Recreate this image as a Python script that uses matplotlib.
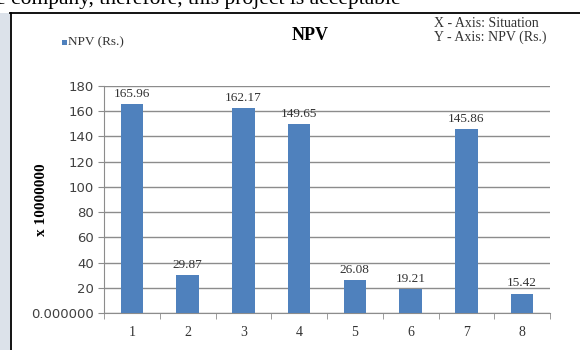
import matplotlib
matplotlib.use("Agg")
import matplotlib.pyplot as plt
from matplotlib.patches import Rectangle
from matplotlib.lines import Line2D

# NPV per situation, in units of 10,000,000 Rs.
situations = [1, 2, 3, 4, 5, 6, 7, 8]
npv = [165.96, 29.87, 162.17, 149.65, 26.08, 19.21, 145.86, 15.42]
ytick_vals = [0, 20, 40, 60, 80, 100, 120, 140, 160, 180]
ytick_labels = ["0.000000", "20", "40", "60", "80", "100", "120", "140", "160", "180"]

W, H = 580, 350
BAR = "#4f81bd"
GRID = "#8c8c8c"
SERIF = ["Liberation Serif", "DejaVu Serif"]


def fx(px):
    return px / W


def fy(py):
    return 1 - py / H


fig = plt.figure(figsize=(W / 100, H / 100), dpi=100)
fig.patch.set_facecolor("white")

# page margin left of the chart frame
fig.patches.append(Rectangle((0, 0), fx(10), fy(13), transform=fig.transFigure,
                             facecolor="#dce2ea", edgecolor="none", zorder=0))
# chart frame (top and left edges)
fig.lines.append(Line2D([fx(10), 1], [fy(12.5), fy(12.5)], transform=fig.transFigure,
                        color="black", lw=1.3))
fig.lines.append(Line2D([fx(10.5), fx(10.5)], [0, fy(12.5)], transform=fig.transFigure,
                        color="black", lw=1.3))

# running text of the page above the chart
fig.text(fx(-4), fy(4), "e company, therefore, this project is acceptable",
         family=SERIF, fontsize=15.5, va="baseline", ha="left", color="black")

ax = fig.add_axes([fx(104), fy(313), fx(550 - 104), (313 - 86) / H])
ax.bar(situations, npv, width=0.4, color=BAR, zorder=3)
for x, v in zip(situations, npv):
    ax.annotate(f"{v:.2f}", (x, v), xytext=(0, 3), textcoords="offset points",
                ha="center", va="bottom", family=SERIF, fontsize=9.5, color="#333333")

ax.set_xlim(0.5, 8.5)
ax.set_ylim(0, 180)
ax.set_yticks(ytick_vals)
ax.set_yticklabels(ytick_labels, fontsize=9.5, color="#404040")
ax.set_xticks(situations)
ax.set_xticklabels([str(s) for s in situations], family=SERIF, fontsize=10, color="#333333")
ax.set_xticks([s + 0.5 for s in [0] + situations], minor=True)
ax.tick_params(axis="x", which="major", length=0, pad=9)
ax.tick_params(axis="x", which="minor", length=4, direction="out", color=GRID)
ax.tick_params(axis="y", length=4, direction="out", color=GRID, pad=3)
ax.grid(axis="y", color=GRID, lw=1, zorder=0)
for side in ("top", "right"):
    ax.spines[side].set_visible(False)
for side in ("left", "bottom"):
    ax.spines[side].set_color(GRID)
ax.set_ylabel("x 10000000", family=SERIF, fontsize=11, fontweight="bold")
ax.yaxis.set_label_coords(-56 / (550 - 104), 0.5)

fig.text(fx(310), fy(35), "NPV", family=SERIF, fontsize=13, fontweight="bold",
         ha="center", va="center")
fig.patches.append(Rectangle((fx(62), fy(44.5)), fx(5), 5 / H, transform=fig.transFigure,
                             facecolor=BAR, edgecolor="none"))
fig.text(fx(68.5), fy(42), "NPV (Rs.)", family=SERIF, fontsize=9.5, ha="left", va="center",
         color="#333333")
fig.text(fx(434), fy(30.5), "X - Axis: Situation\nY - Axis: NPV (Rs.)", family=SERIF,
         fontsize=10, ha="left", va="center", linespacing=1.0, color="#333333")

fig.savefig("out.png", dpi=100)
